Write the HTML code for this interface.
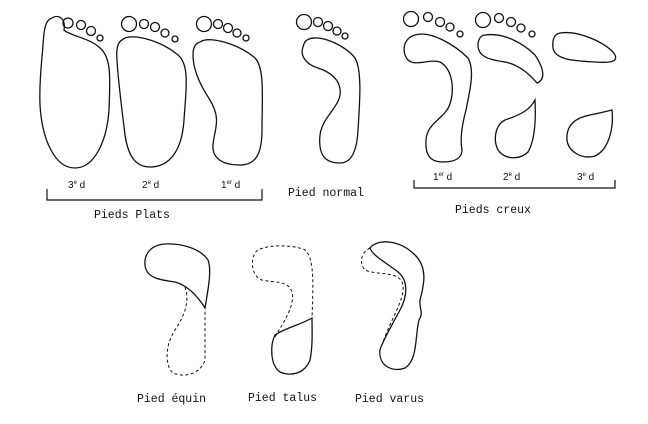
<!DOCTYPE html>
<html><head><meta charset="utf-8"><style>
html,body{margin:0;padding:0;background:#fff}
svg{display:block}
.m{font-family:"Liberation Mono",monospace;font-size:11.5px;fill:#111}
.s{font-family:"Liberation Sans",sans-serif;font-size:10px;fill:#111}
.sup{font-size:6px}
</style></head><body>
<svg width="648" height="424" viewBox="0 0 648 424" xmlns="http://www.w3.org/2000/svg">
<g fill="none" stroke="#111" stroke-width="1.3">
<!-- Pieds plats 3e d -->
<path d="M52,18 C58,14 66,18 64,30 C70,36 90,38 100,48 C112,58 110,80 109,110 C107,140 95,168 75,168 C55,168 42,140 40,105 C39,80 42,60 43,45 C44,30 45,20 52,18 Z"/>
<circle cx="68" cy="23" r="5"/><circle cx="81" cy="25" r="4.5"/><circle cx="91" cy="31" r="4.5"/><circle cx="100" cy="38" r="3"/>
<!-- 2e d -->
<path d="M122,40 C130,32 160,40 178,55 C190,65 186,90 184,120 C182,150 170,167 150,167 C135,167 128,155 125,135 C122,110 118,80 117,60 C116,48 118,42 122,40 Z"/>
<circle cx="129" cy="24" r="7.5"/><circle cx="144" cy="24" r="4.5"/><circle cx="155" cy="27" r="4.5"/><circle cx="165" cy="33" r="4"/><circle cx="175" cy="39" r="3"/>
<!-- 1er d -->
<path d="M200,42 C210,35 240,45 255,58 C265,68 262,100 262,130 C262,155 255,165 240,165 C222,165 212,158 213,145 C214,130 222,120 210,100 C200,85 193,70 193,55 C193,47 196,43 200,42 Z"/>
<circle cx="204" cy="24" r="7.5"/><circle cx="218" cy="24" r="4.5"/><circle cx="228" cy="28" r="4.5"/><circle cx="237" cy="33" r="4"/><circle cx="246" cy="38" r="3"/>
<!-- Normal -->
<path d="M307,40 C318,33 345,45 355,58 C362,70 360,100 358,130 C357,150 352,163 340,163 C325,163 318,155 320,135 C322,118 338,108 340,95 C342,80 330,72 318,68 C305,64 300,55 303,47 C304,43 305,41 307,40 Z"/>
<circle cx="304" cy="22" r="7.5"/><circle cx="318" cy="22" r="4.5"/><circle cx="328" cy="26" r="4.5"/><circle cx="337" cy="31" r="4"/><circle cx="345" cy="36" r="3"/>
<!-- Creux 1er -->
<path d="M415,35 C430,30 455,45 468,58 C475,70 470,90 466,110 C462,125 460,140 462,150 C462,158 455,162 443,162 C430,162 425,155 426,140 C427,125 440,120 447,110 C455,98 455,70 440,62 C428,58 410,70 405,55 C402,45 407,37 415,35 Z"/>
<circle cx="411" cy="19" r="7.5"/><circle cx="428" cy="17" r="4.5"/><circle cx="440" cy="22" r="4.5"/><circle cx="450" cy="27" r="4"/><circle cx="460" cy="34" r="3"/>
<!-- Creux 2e -->
<path d="M485,35 C505,32 525,45 535,55 C545,70 545,80 537,83 C530,75 520,65 505,62 C492,60 478,58 478,45 C478,38 482,35 485,35 Z"/>
<path d="M535,100 C536,120 535,140 528,152 C520,160 505,160 498,150 C493,140 495,125 505,120 C520,115 530,110 535,100 Z"/>
<circle cx="483" cy="20" r="7.5"/><circle cx="499" cy="18" r="4.5"/><circle cx="511" cy="22" r="4.5"/><circle cx="521" cy="28" r="4"/><circle cx="532" cy="34" r="3"/>
<!-- Creux 3e -->
<path d="M560,33 C580,30 610,45 615,55 C618,62 610,63 595,62 C575,61 555,60 553,48 C552,38 555,34 560,33 Z"/>
<path d="M612,110 C614,130 608,150 595,156 C580,160 568,150 567,140 C566,125 575,118 590,115 C600,113 608,111 612,110 Z"/>
<!-- brackets -->
<path d="M47,189 L47,200 L262,200 L262,189" stroke-width="1.2"/>
<path d="M414,180 L414,188 L615,188 L615,180" stroke-width="1.2"/>
<!-- Equin -->
<path d="M205,308 C208,290 212,270 208,260 C200,248 180,243 165,244 C150,245 144,255 145,265 C146,278 160,280 175,282 C190,286 200,300 205,308 Z"/>
<path d="M185,287 C190,300 185,315 175,330 C165,345 165,365 172,372 C180,378 200,376 205,360 L205,308" stroke-dasharray="3,2.5" stroke-width="1"/>
<!-- Talus -->
<path d="M275,337 C285,320 295,305 292,292 C288,280 275,283 262,280 C250,276 250,255 258,250 C270,244 295,245 305,250 C315,258 313,290 312,318" stroke-dasharray="3,2.5" stroke-width="1"/>
<path d="M312,318 C300,325 285,328 275,335 C270,345 270,365 280,372 C292,377 305,373 310,360 C313,345 312,330 312,318 Z"/>
<!-- Varus -->
<path d="M370,248 C378,238 400,240 415,255 C428,268 424,285 420,300 C419,310 424,312 419,320 C415,335 418,360 405,368 C392,373 378,365 380,350 C382,342 392,325 400,310 C408,295 408,280 398,272 C385,262 372,255 370,248 Z"/>
<path d="M370,248 C362,252 358,262 365,270 C378,276 400,270 403,285 C405,300 390,320 382,345" stroke-dasharray="3,2.5" stroke-width="1"/>
</g>
<text class="s" x="68" y="188">3<tspan class="sup" dy="-4">e</tspan><tspan dy="4"> d</tspan></text>
<text class="s" x="142" y="188">2<tspan class="sup" dy="-4">e</tspan><tspan dy="4"> d</tspan></text>
<text class="s" x="221" y="188">1<tspan class="sup" dy="-4">er</tspan><tspan dy="4"> d</tspan></text>
<text class="s" x="433" y="180">1<tspan class="sup" dy="-4">er</tspan><tspan dy="4"> d</tspan></text>
<text class="s" x="503" y="180">2<tspan class="sup" dy="-4">e</tspan><tspan dy="4"> d</tspan></text>
<text class="s" x="577" y="180">3<tspan class="sup" dy="-4">e</tspan><tspan dy="4"> d</tspan></text>
<text class="m" x="94" y="218">Pieds Plats</text>
<text class="m" x="288" y="196">Pied normal</text>
<text class="m" x="455" y="213">Pieds creux</text>
<text class="m" x="137" y="402">Pied équin</text>
<text class="m" x="248" y="401">Pied talus</text>
<text class="m" x="355" y="402">Pied varus</text>
</svg>
</body></html>
